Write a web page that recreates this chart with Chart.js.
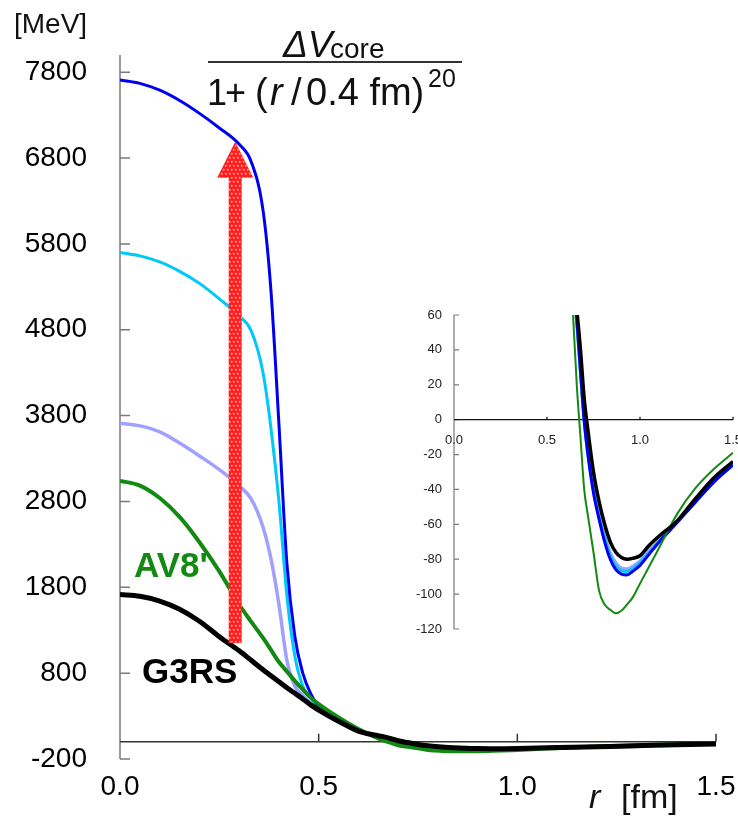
<!DOCTYPE html>
<html>
<head>
<meta charset="utf-8">
<script src="https://cdn.jsdelivr.net/npm/chart.js@4.4.0/dist/chart.umd.min.js"></script>
<style>
  html, body { margin: 0; padding: 0; background: #fff; }
  #main { position: absolute; left: 0; top: 0; width: 738px; height: 819px; }
  #inset { position: absolute; left: 400px; top: 290px; width: 338px; height: 370px; }
</style>
</head>
<body>
<div id="main"><canvas id="mainChart"></canvas></div>
<div id="inset"><canvas id="insetChart"></canvas></div>
<script>
// r in fm, potentials in MeV
const r = [0, 0.05, 0.1, 0.15, 0.2, 0.25, 0.3, 0.33, 0.36, 0.38, 0.4, 0.42, 0.44, 0.46, 0.48, 0.5,
  0.55, 0.6, 0.64, 0.66, 0.68, 0.7, 0.72, 0.75, 0.78, 0.81, 0.84, 0.87, 0.9, 0.93, 0.96, 1.0,
  1.05, 1.1, 1.2, 1.3, 1.4, 1.5];
const vG3RS = [1715, 1695, 1640, 1545, 1405, 1225, 1060, 950, 840, 770, 700, 630, 565, 500, 430, 370,
  240, 125, 80, 63, 40, 12, -6, -30, -47, -60, -70, -76, -79, -80, -79.5, -78,
  -72, -67, -58, -45, -33, -24];
const vAV8 = [3040, 2985, 2840, 2620, 2325, 1985, 1600, 1400, 1210, 1070, 930, 820, 710, 610, 515, 440,
  285, 150, 60, 20, -10, -40, -55, -76, -98, -106, -109, -111, -109.5, -106, -102, -94,
  -84, -74, -54, -39, -28, -19];
const vCore2000 = [3710, 3680, 3610, 3480, 3330, 3170, 2980, 2830, 2500, 2130, 1600, 950, 650, 540, 445, 370,
  235, 125, 78, 55, 27, 1, -18, -38, -54, -66, -76, -82, -85, -85.5, -84, -81,
  -75, -69, -58, -46, -35, -25];
const vCore4000 = [5700, 5660, 5590, 5480, 5340, 5160, 4960, 4790, 4300, 3650, 2800, 1700, 1000, 650, 510, 400,
  245, 127, 80, 56, 27, 0, -20, -40, -56, -68, -78, -84, -86.5, -87, -85.5, -82,
  -76, -70, -58.5, -47, -35, -25.5];
const vCore6000 = [7710, 7670, 7590, 7470, 7320, 7150, 6960, 6760, 6190, 5250, 3700, 2080, 1230, 800, 560, 410,
  250, 128, 82, 58, 28, -1, -20, -42, -57, -70, -80, -86, -88.5, -89, -87, -83.5,
  -77, -70.5, -59, -47, -35.5, -26];

const xTicks = [0, 0.5, 1.0, 1.5];
const yTicksMain = [-200, 800, 1800, 2800, 3800, 4800, 5800, 6800, 7800];
const yTicksInset = [-120, -100, -80, -60, -40, -20, 0, 20, 40, 60];

// red arrow: position r, from / to potential
const arrowR = 0.29;
const arrowFrom = 1150;
const arrowTo = 6990;

const FONT = '"Liberation Sans", Arial, sans-serif';
const GREEN = '#128a12';

function pts(v) {
    return r.map((x, i) => ({ x: x, y: v[i] }));
}

function makeDatasets(widths) {
    return [
        { label: 'G3RS', data: pts(vG3RS), borderColor: '#000000', borderWidth: widths[0], order: 0 },
        { label: "AV8'", data: pts(vAV8), borderColor: GREEN, borderWidth: widths[1], order: 1 },
        { label: 'core 6000', data: pts(vCore6000), borderColor: '#0000f0', borderWidth: widths[2], order: 2 },
        { label: 'core 4000', data: pts(vCore4000), borderColor: '#00c8f8', borderWidth: widths[3], order: 3 },
        { label: 'core 2000', data: pts(vCore2000), borderColor: '#a0a0ff', borderWidth: widths[4], order: 4 }
    ];
}

function drawPieces(ctx, y, pieces) {
    pieces.forEach(p => {
        ctx.font = p.font;
        ctx.fillText(p.t, p.x, y + (p.dy || 0));
    });
}

function arrowPath(ctx, ax, yb, yt) {
    ctx.beginPath();
    ctx.moveTo(ax - 6.5, yb);
    ctx.lineTo(ax - 6.5, yt + 36);
    ctx.lineTo(ax - 18, yt + 36);
    ctx.lineTo(ax, yt);
    ctx.lineTo(ax + 18, yt + 36);
    ctx.lineTo(ax + 6.5, yt + 36);
    ctx.lineTo(ax + 6.5, yb);
    ctx.closePath();
}

const mainAxes = {
    id: 'mainAxes',
    beforeDatasetsDraw(chart) {
        const ctx = chart.ctx, xs = chart.scales.x, ys = chart.scales.y, a = chart.chartArea;
        ctx.save();
        ctx.strokeStyle = '#7a7a7a';
        ctx.lineWidth = 1.5;
        ctx.beginPath();
        ctx.moveTo(a.left, a.top);
        ctx.lineTo(a.left, ys.getPixelForValue(-200));
        yTicksMain.forEach(v => {
            const y = ys.getPixelForValue(v);
            ctx.moveTo(a.left, y);
            ctx.lineTo(a.left + 10, y);
        });
        ctx.stroke();
        const y0 = ys.getPixelForValue(0);
        ctx.strokeStyle = '#333';
        ctx.beginPath();
        ctx.moveTo(a.left, y0);
        ctx.lineTo(xs.getPixelForValue(1.5), y0);
        xTicks.slice(1).forEach(v => {
            const x = xs.getPixelForValue(v);
            ctx.moveTo(x, y0);
            ctx.lineTo(x, y0 - 8);
        });
        ctx.stroke();
        ctx.restore();
    },
    afterDatasetsDraw(chart) {
        const ctx = chart.ctx, xs = chart.scales.x, ys = chart.scales.y;
        ctx.save();
        // arrow, red with a light dotted texture
        const ax = xs.getPixelForValue(arrowR);
        const yb = ys.getPixelForValue(arrowFrom);
        const yt = ys.getPixelForValue(arrowTo);
        arrowPath(ctx, ax, yb, yt);
        ctx.fillStyle = '#ff2020';
        ctx.fill();
        ctx.save();
        arrowPath(ctx, ax, yb, yt);
        ctx.clip();
        ctx.fillStyle = '#ffc8c8';
        for (let y = Math.floor(yt); y < yb; y += 4) {
            for (let x = Math.floor(ax - 20); x < ax + 20; x += 4) {
                const off = (Math.floor(y / 4) % 2) * 2;
                ctx.fillRect(x + off, y, 1.5, 1.5);
            }
        }
        ctx.restore();

        ctx.fillStyle = '#111';
        ctx.textBaseline = 'alphabetic';
        ctx.textAlign = 'left';
        ctx.font = '28px ' + FONT;
        ctx.fillText('[MeV]', 14, 33);

        // formula
        drawPieces(ctx, 57, [
            { t: '\u0394V', x: 283, font: 'italic 37px ' + FONT },
            { t: 'core', x: 330, font: '28px ' + FONT, dy: 1 }
        ]);
        ctx.fillStyle = '#333';
        ctx.fillRect(208, 61, 254, 2);
        ctx.fillStyle = '#111';
        drawPieces(ctx, 105, [
            { t: '1', x: 207, font: '36px ' + FONT },
            { t: '+', x: 225, font: '36px ' + FONT },
            { t: '(', x: 255, font: '38px ' + FONT },
            { t: 'r', x: 270, font: 'italic 38px ' + FONT },
            { t: '/', x: 291, font: '38px ' + FONT },
            { t: '0.4 fm)', x: 306, font: '38px ' + FONT },
            { t: '20', x: 428, font: '25px ' + FONT, dy: -18 }
        ]);

        // axis title
        ctx.font = 'italic 34px ' + FONT;
        ctx.fillText('r', 589, 808);
        ctx.font = '34px ' + FONT;
        ctx.fillText('[fm]', 621, 808);

        ctx.font = 'bold 35px ' + FONT;
        ctx.fillStyle = GREEN;
        ctx.fillText("AV8'", 134, 577);
        ctx.fillStyle = '#000';
        ctx.fillText('G3RS', 142, 683);
        ctx.restore();
    }
};

const insetAxes = {
    id: 'insetAxes',
    beforeDatasetsDraw(chart) {
        const ctx = chart.ctx, xs = chart.scales.x, ys = chart.scales.y, a = chart.chartArea;
        ctx.save();
        ctx.strokeStyle = '#7a7a7a';
        ctx.lineWidth = 1.2;
        ctx.beginPath();
        ctx.moveTo(a.left, ys.getPixelForValue(60));
        ctx.lineTo(a.left, ys.getPixelForValue(-120));
        yTicksInset.forEach(v => {
            const y = ys.getPixelForValue(v);
            ctx.moveTo(a.left, y);
            ctx.lineTo(a.left + 5, y);
        });
        ctx.stroke();
        const y0 = ys.getPixelForValue(0);
        ctx.strokeStyle = '#111';
        ctx.beginPath();
        ctx.moveTo(a.left, y0);
        ctx.lineTo(xs.getPixelForValue(1.5), y0);
        xTicks.slice(1).forEach(v => {
            const x = xs.getPixelForValue(v);
            ctx.moveTo(x, y0);
            ctx.lineTo(x, y0 - 3);
        });
        ctx.stroke();
        ctx.fillStyle = '#222';
        ctx.font = '13px ' + FONT;
        ctx.textAlign = 'center';
        ctx.textBaseline = 'middle';
        xTicks.forEach(v => {
            ctx.fillText(v.toFixed(1), xs.getPixelForValue(v), y0 + 21);
        });
        ctx.restore();
    }
};

const baseOptions = {
    responsive: true,
    maintainAspectRatio: false,
    animation: false,
    events: [],
    elements: {
        point: { radius: 0 },
        line: { cubicInterpolationMode: 'monotone', fill: false }
    },
    plugins: { legend: { display: false }, tooltip: { enabled: false } }
};

new Chart(document.getElementById('mainChart'), {
    type: 'line',
    data: { datasets: makeDatasets([5, 4, 3, 3, 3.5]) },
    options: Object.assign({}, baseOptions, {
        layout: { padding: { top: 55, right: 22, left: 0, bottom: 0 } },
        scales: {
            x: {
                type: 'linear', min: 0, max: 1.5,
                grid: { display: false, drawTicks: false },
                border: { display: false },
                afterBuildTicks: s => { s.ticks = xTicks.map(v => ({ value: v })); },
                afterFit: s => { s.height = 60; s.paddingLeft = 0; s.paddingRight = 0; },
                ticks: {
                    padding: 11, color: '#000', autoSkip: false, maxRotation: 0,
                    font: { family: FONT, size: 28 },
                    callback: v => v.toFixed(1)
                }
            },
            y: {
                type: 'linear', min: -200, max: 8000,
                grid: { display: false, drawTicks: false },
                border: { display: false },
                afterBuildTicks: s => { s.ticks = yTicksMain.map(v => ({ value: v })); },
                afterFit: s => { s.width = 120; s.paddingTop = 0; s.paddingBottom = 0; },
                ticks: {
                    padding: 33, color: '#000', autoSkip: false,
                    font: { family: FONT, size: 28 },
                    callback: v => String(v)
                }
            }
        }
    }),
    plugins: [mainAxes]
});

new Chart(document.getElementById('insetChart'), {
    type: 'line',
    data: { datasets: makeDatasets([3.5, 2, 3, 3, 3]) },
    options: Object.assign({}, baseOptions, {
        layout: { padding: { top: 25, right: 5, left: 0, bottom: 31 } },
        scales: {
            x: { type: 'linear', min: 0, max: 1.5, display: false },
            y: {
                type: 'linear', min: -120, max: 60,
                grid: { display: false, drawTicks: false },
                border: { display: false },
                afterBuildTicks: s => { s.ticks = yTicksInset.map(v => ({ value: v })); },
                afterFit: s => { s.width = 54; s.paddingTop = 0; s.paddingBottom = 0; },
                ticks: {
                    padding: 12, color: '#222', autoSkip: false,
                    font: { family: FONT, size: 13 },
                    callback: v => String(v)
                }
            }
        }
    }),
    plugins: [insetAxes]
});
</script>
</body>
</html>
